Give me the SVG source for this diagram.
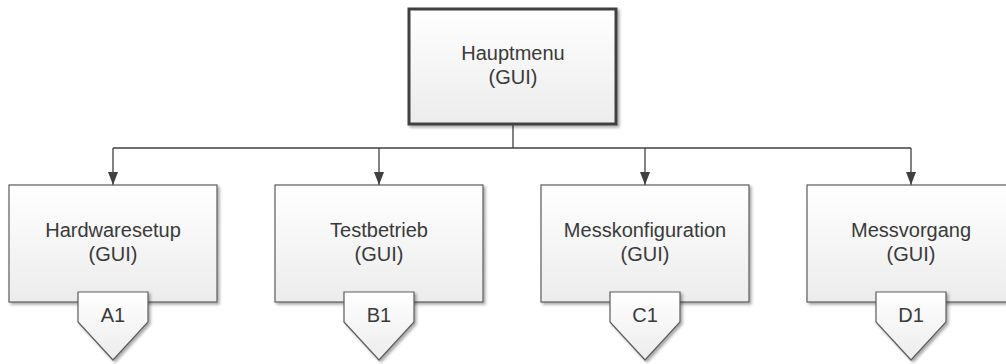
<svg xmlns="http://www.w3.org/2000/svg" width="1006" height="364" viewBox="0 0 1006 364">
  <defs>
    <linearGradient id="boxFill" x1="0" y1="0" x2="0" y2="1">
      <stop offset="0" stop-color="#ffffff"/>
      <stop offset="1" stop-color="#ececec"/>
    </linearGradient>
    <filter id="shadow" x="-10%" y="-10%" width="130%" height="130%">
      <feGaussianBlur in="SourceAlpha" stdDeviation="1.5"/>
      <feOffset dx="2" dy="2" result="b"/>
      <feComponentTransfer><feFuncA type="linear" slope="0.35"/></feComponentTransfer>
      <feMerge><feMergeNode/><feMergeNode in="SourceGraphic"/></feMerge>
    </filter>
    <marker id="arrow" viewBox="0 0 13 10" refX="13" refY="5" markerWidth="13" markerHeight="10" markerUnits="userSpaceOnUse" orient="auto">
      <path d="M0,0 L13,5 L0,10 Z" fill="#404040"/>
    </marker>
    <style>
      .box { fill: url(#boxFill); stroke: #5c5c5c; stroke-width: 1.2; filter: url(#shadow); }
      .main { stroke: #404040; stroke-width: 3; }
      .ref { fill: url(#boxFill); stroke: #5c5c5c; stroke-width: 1.2; filter: url(#shadow); }
      .lbl { font-family: "Liberation Sans", Arial, sans-serif; font-size: 20px; fill: #3a3a3a; text-anchor: middle; }
      .conn { fill: none; stroke: #404040; stroke-width: 1.3; }
    </style>
  </defs>

  <!-- connectors -->
  <g id="connectors">
    <path class="conn" d="M513,125 V148"/>
    <path class="conn" d="M113,148 H911"/>
    <path class="conn" d="M113,148 V185" marker-end="url(#arrow)"/>
    <path class="conn" d="M379,148 V185" marker-end="url(#arrow)"/>
    <path class="conn" d="M645,148 V185" marker-end="url(#arrow)"/>
    <path class="conn" d="M911,148 V185" marker-end="url(#arrow)"/>
  </g>

  <g id="hauptmenu">
    <rect class="box main" x="409" y="9" width="207" height="115"/>
    <text class="lbl" x="513" y="60">Hauptmenu</text>
    <text class="lbl" x="513" y="84">(GUI)</text>
  </g>

  <g id="hardwaresetup">
    <rect class="box" x="9" y="185" width="208" height="117"/>
    <text class="lbl" x="113" y="237">Hardwaresetup</text>
    <text class="lbl" x="113" y="261">(GUI)</text>
  </g>
  <g id="ref-a1">
    <polygon class="ref" points="78,292 148,292 148,322 113,360 78,322"/>
    <text class="lbl" x="113" y="322">A1</text>
  </g>

  <g id="testbetrieb">
    <rect class="box" x="275" y="185" width="208" height="117"/>
    <text class="lbl" x="379" y="237">Testbetrieb</text>
    <text class="lbl" x="379" y="261">(GUI)</text>
  </g>
  <g id="ref-b1">
    <polygon class="ref" points="344,292 414,292 414,322 379,360 344,322"/>
    <text class="lbl" x="379" y="322">B1</text>
  </g>

  <g id="messkonfiguration">
    <rect class="box" x="541" y="185" width="208" height="117"/>
    <text class="lbl" x="645" y="237">Messkonfiguration</text>
    <text class="lbl" x="645" y="261">(GUI)</text>
  </g>
  <g id="ref-c1">
    <polygon class="ref" points="610,292 680,292 680,322 645,360 610,322"/>
    <text class="lbl" x="645" y="322">C1</text>
  </g>

  <g id="messvorgang">
    <rect class="box" x="807" y="185" width="208" height="117"/>
    <text class="lbl" x="911" y="237">Messvorgang</text>
    <text class="lbl" x="911" y="261">(GUI)</text>
  </g>
  <g id="ref-d1">
    <polygon class="ref" points="876,292 946,292 946,322 911,360 876,322"/>
    <text class="lbl" x="911" y="322">D1</text>
  </g>
</svg>
